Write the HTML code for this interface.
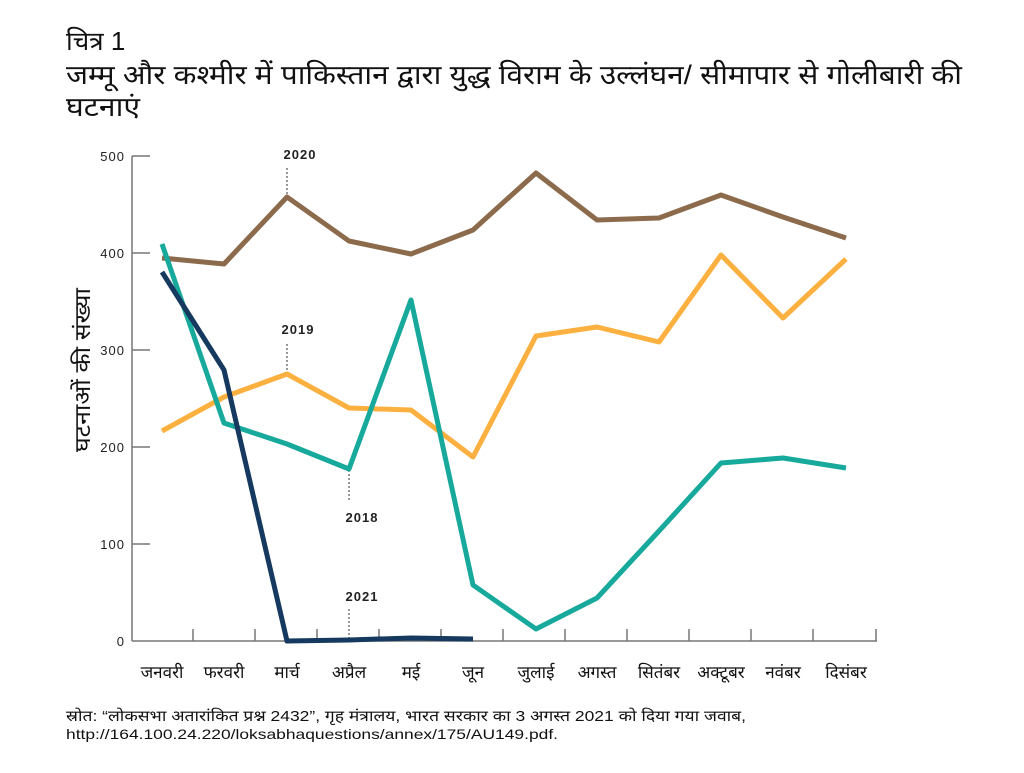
<!DOCTYPE html>
<html><head><meta charset="utf-8"><style>
body{margin:0;background:#fff;width:1024px;height:768px;overflow:hidden;font-family:"Liberation Sans","Noto Sans CJK SC",sans-serif}
</style></head><body>
<svg width="1024" height="768" xmlns="http://www.w3.org/2000/svg" font-family="Liberation Sans, Noto Sans CJK SC, sans-serif">
<text x="66" y="50" font-size="26" fill="#111">चित्र 1</text>
<text x="66" y="84" font-size="27" fill="#111" textLength="896" lengthAdjust="spacingAndGlyphs">जम्मू और कश्मीर में पाकिस्तान द्वारा युद्ध विराम के उल्लंघन/ सीमापार से गोलीबारी की</text>
<text x="66" y="116" font-size="27" fill="#111" textLength="74" lengthAdjust="spacingAndGlyphs">घटनाएं</text>
<g stroke="#777" stroke-width="1.5" fill="none">
<line x1="132" y1="156" x2="132" y2="641"/>
<line x1="132" y1="641" x2="877" y2="641"/>
<line x1="132" y1="156" x2="150" y2="156"/><line x1="132" y1="253" x2="150" y2="253"/>
<line x1="132" y1="350" x2="150" y2="350"/><line x1="132" y1="447" x2="150" y2="447"/>
<line x1="132" y1="544" x2="150" y2="544"/>
<path d="M193 641v-12M255 641v-12M317 641v-12M379 641v-12M441 641v-12M503 641v-12M565 641v-12M627 641v-12M689 641v-12M751 641v-12M813 641v-12M876 641v-12"/>
</g>
<g font-size="13" fill="#222" text-anchor="end" letter-spacing="1">
<text x="125" y="161">500</text><text x="125" y="258">400</text><text x="125" y="355">300</text><text x="125" y="452">200</text><text x="125" y="549">100</text><text x="125" y="646">0</text>
</g>
<text transform="translate(90,370) rotate(-90)" font-size="22" fill="#111" text-anchor="middle" textLength="164" lengthAdjust="spacingAndGlyphs">घटनाओं की संख्या</text>
<g font-size="17" fill="#111" text-anchor="middle">
<text x="162" y="678">जनवरी</text><text x="224" y="678">फरवरी</text><text x="287" y="678">मार्च</text><text x="349" y="678">अप्रैल</text><text x="411" y="678">मई</text><text x="473" y="678">जून</text><text x="536" y="678">जुलाई</text><text x="597" y="678">अगस्त</text><text x="659" y="678">सितंबर</text><text x="721" y="678">अक्टूबर</text><text x="783" y="678">नवंबर</text><text x="846" y="678">दिसंबर</text>
</g>
<g stroke="#333" stroke-width="1" stroke-dasharray="2,2">
<line x1="287" y1="168" x2="287" y2="197"/><line x1="287" y1="344" x2="287" y2="372"/><line x1="349" y1="470" x2="349" y2="500"/><line x1="349" y1="609" x2="349" y2="640"/>
</g>
<g font-size="13" font-weight="bold" fill="#222" text-anchor="middle" letter-spacing="1">
<text x="300" y="159">2020</text><text x="298" y="334">2019</text><text x="362" y="522">2018</text><text x="362" y="601">2021</text>
</g>
<g fill="none" stroke-width="5" stroke-linejoin="round">
<polyline stroke="#8c6b4c" points="162,258 224,264 287,197 349,241 411,254 473,230 536,173 597,220 659,218 721,195 783,217 846,238"/>
<polyline stroke="#fbb040" points="162,431 224,397 287,374 349,408 411,410 473,457 536,336 597,327 659,342 721,255 783,318 846,259"/>
<polyline stroke="#17a99b" points="162,244 224,423 287,444 349,469 411,300 473,585 536,629 597,598 659,531 721,463 783,458 846,468"/>
<polyline stroke="#15395f" points="162,272 224,370 287,641 349,640 411,638 473,639"/>
</g>
<text x="66" y="721" font-size="15" fill="#111" textLength="680" lengthAdjust="spacingAndGlyphs">स्रोत: “लोकसभा अतारांकित प्रश्न 2432”, गृह मंत्रालय, भारत सरकार का 3 अगस्त 2021 को दिया गया जवाब,</text>
<text x="66" y="739" font-size="14" fill="#111" textLength="492" lengthAdjust="spacingAndGlyphs">http://164.100.24.220/loksabhaquestions/annex/175/AU149.pdf.</text>
</svg>
</body></html>
